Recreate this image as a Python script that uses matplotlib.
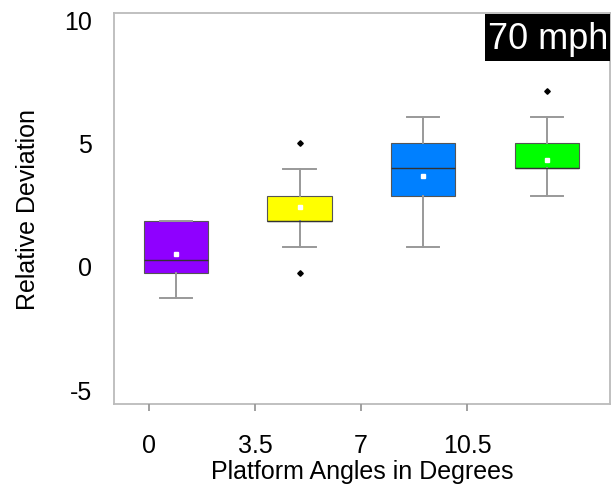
import matplotlib
matplotlib.use("Agg")
import matplotlib.pyplot as plt
from matplotlib.patches import Rectangle

plt.rcParams['font.family'] = ['Liberation Sans', 'DejaVu Sans']

# Data
angles = [0, 3.5, 7, 10.5]
angle_labels = ['0', '3.5', '7', '10.5']
colors = ['#8f00ff', '#ffff00', '#0080ff', '#00ff00']
whislo = [-1.3, 0.75, 0.75, 2.85]
q1 = [-0.3, 1.82, 2.85, 3.95]
med = [0.22, 1.82, 3.95, 3.95]
q3 = [1.82, 2.85, 5.0, 5.0]
whishi = [1.82, 3.92, 6.05, 6.05]
means = [0.5, 2.38, 3.65, 4.3]
fliers = [[], [-0.3, 4.97], [], [7.08]]
y_ticks = [-5, 0, 5, 10]
speed_label = '70 mph'

fig = plt.figure(figsize=(6.13, 4.85), dpi=100)
pos = [114/613, 1 - 405/485, (610-114)/613, (405-14)/485]
ax = fig.add_axes(pos)

stats = []
for i in range(len(angles)):
    stats.append(dict(whislo=whislo[i], q1=q1[i], med=med[i], q3=q3[i],
                      whishi=whishi[i], mean=means[i], fliers=fliers[i]))

bp = ax.bxp(stats, positions=range(1, len(angles) + 1), widths=0.52,
            patch_artist=True, showmeans=True,
            boxprops=dict(edgecolor='#555555', linewidth=0.8),
            whiskerprops=dict(color='#999999', linewidth=1.4),
            capprops=dict(color='#999999', linewidth=1.4),
            medianprops=dict(color='#333333', linewidth=1.0),
            meanprops=dict(marker='s', markerfacecolor='white',
                           markeredgecolor='white', markersize=2.8),
            flierprops=dict(marker='D', markerfacecolor='black',
                            markeredgecolor='black', markersize=2.8))
for patch, c in zip(bp['boxes'], colors):
    patch.set_facecolor(c)

ax.set_xlim(0.5, 4.51)
ax.set_ylim(-5.6, 10.25)
ax.set_yticks(y_ticks)
ax.set_yticklabels([str(t) for t in y_ticks], fontsize=18)
ax.tick_params(axis='y', length=0, pad=16)
ax.tick_params(axis='x', bottom=False, labelbottom=False)
for s in ax.spines.values():
    s.set_color('#bbbbbb')
    s.set_linewidth(1.3)
ax.set_ylabel('Relative Deviation', fontsize=18, labelpad=17)

# angle axis
ax2 = fig.add_axes(pos, frameon=False)
ax2.patch.set_visible(False)
ax2.set_xlim(-1.155, 15.21)
ax2.set_xticks(angles)
ax2.set_xticklabels(angle_labels, fontsize=18)
ax2.tick_params(axis='x', direction='out', length=5, width=1.3,
                color='#999999', pad=16)
ax2.set_yticks([])
ax2.set_xlabel('Platform Angles in Degrees', fontsize=18, labelpad=1)

ax.add_patch(Rectangle((0.748, 0.877), 0.252, 0.12, transform=ax.transAxes,
                       facecolor='black', edgecolor='none', zorder=5,
                       clip_on=False))
ax.text(0.876, 0.935, speed_label, transform=ax.transAxes, ha='center',
        va='center', fontsize=26, color='white', zorder=6)

fig.text(0.475, 1 + 5/485, '(      )', ha='center', va='baseline', fontsize=18,
         color='#333333')

fig.savefig('out.png', dpi=100)
